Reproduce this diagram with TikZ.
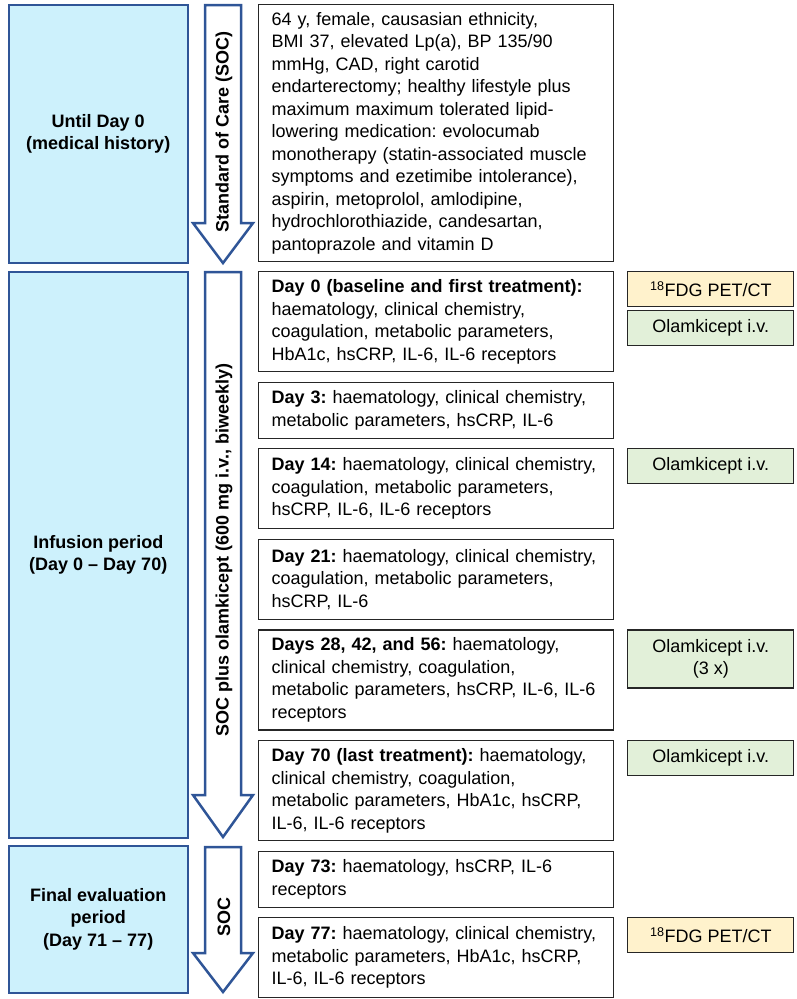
\documentclass[tikz,border=0pt]{standalone}
\usepackage{fontspec}
\setmainfont{Liberation Sans}
\frenchspacing
\usetikzlibrary{positioning}
\definecolor{socblue}{HTML}{2F5597}
\definecolor{periodfill}{HTML}{CDF1FC}
\definecolor{petfill}{HTML}{FFF2CC}
\definecolor{drugfill}{HTML}{E2F0D9}
\definecolor{boxline}{HTML}{262626}
\tikzset{
  node distance=9.4pt,
  every node/.style={font=\fontsize{18}{22.5}\selectfont},
  period/.style={draw=socblue, line width=1.5pt, fill=periodfill, align=center,
    minimum width=179pt, inner sep=0pt, anchor=north west,
    font=\fontsize{18}{22.5}\selectfont\bfseries},
  visit/.style={draw=boxline, line width=1.2pt, fill=white, align=left,
    text width=329pt, inner xsep=13pt, inner ysep=0pt},
  exam/.style={draw=boxline, line width=1.2pt, align=center,
    minimum width=166pt, minimum height=35pt, inner sep=0pt},
  pet/.style={exam, fill=petfill},
  drug/.style={exam, fill=drugfill},
  flow/.style={draw=socblue, line width=2.5pt, fill=white, line join=miter},
  flowtext/.style={rotate=90, font=\fontsize{18}{22.5}\selectfont\bfseries}
}

\begin{document}
\begin{tikzpicture}[x=1pt, y=-1pt]
  \useasboundingbox (0,0) rectangle (796,999);

  % study periods
  \node[period, minimum height=258pt] (untilday0) at (8,4) {Until Day 0\\(medical history)};
  \node[period, minimum height=566pt] (infusion) at (8,271) {Infusion period\\(Day 0 -- Day 70)};
  \node[period, minimum height=147pt] (final) at (8,845) {Final evaluation\\period\\(Day 71 -- 77)};

  % treatment arrows
  \draw[flow] (205,5) -- (241,5) -- (241,223) -- (253,223) -- (223,263) -- (193,223) -- (205,223) -- cycle;
  \draw[flow] (205,272) -- (241,272) -- (241,795) -- (253,795) -- (223,837) -- (193,795) -- (205,795) -- cycle;
  \draw[flow] (205,847) -- (241,847) -- (241,953) -- (253,953) -- (223,992) -- (193,953) -- (205,953) -- cycle;
  \node[flowtext] (soc) at (224,132) {Standard of Care (SOC)};
  \node[flowtext] (socolam) at (224,550) {SOC plus olamkicept (600 mg i.v., biweekly)};
  \node[flowtext] (socend) at (224,917) {SOC};

  % visits
  \node[visit, anchor=north west, minimum height=257pt] (anamnesis) at (258,4) {64 y, female, causasian ethnicity,\\
    BMI 37, elevated Lp(a), BP 135/90\\
    mmHg, CAD, right carotid\\
    endarterectomy; healthy lifestyle plus\\
    maximum maximum tolerated lipid-\\
    lowering medication: evolocumab\\
    monotherapy (statin-associated muscle\\
    symptoms and ezetimibe intolerance),\\
    aspirin, metoprolol, amlodipine,\\
    hydrochlorothiazide, candesartan,\\
    pantoprazole and vitamin D};
  \node[visit, anchor=north west, minimum height=100pt] (day0) at (258,271) {\textbf{Day 0 (baseline and first treatment):}\\
    haematology, clinical chemistry,\\
    coagulation, metabolic parameters,\\
    HbA1c, hsCRP, IL-6, IL-6 receptors};
  \node[visit, below=of day0, minimum height=56pt] (day3) {\textbf{Day 3:} haematology, clinical chemistry,\\
    metabolic parameters, hsCRP, IL-6};
  \node[visit, below=of day3, minimum height=80pt] (day14) {\textbf{Day 14:} haematology, clinical chemistry,\\
    coagulation, metabolic parameters,\\
    hsCRP, IL-6, IL-6 receptors};
  \node[visit, below=of day14, minimum height=80pt] (day21) {\textbf{Day 21:} haematology, clinical chemistry,\\
    coagulation, metabolic parameters,\\
    hsCRP, IL-6};
  \node[visit, below=of day21, minimum height=100pt] (day28) {\textbf{Days 28, 42, and 56:} haematology,\\
    clinical chemistry, coagulation,\\
    metabolic parameters, hsCRP, IL-6, IL-6\\
    receptors};
  \node[visit, below=of day28, minimum height=100pt] (day70) {\textbf{Day 70 (last treatment):} haematology,\\
    clinical chemistry, coagulation,\\
    metabolic parameters, HbA1c, hsCRP,\\
    IL-6, IL-6 receptors};
  \node[visit, below=of day70, minimum height=56pt] (day73) {\textbf{Day 73:} haematology, hsCRP, IL-6\\
    receptors};
  \node[visit, below=of day73, minimum height=80pt] (day77) {\textbf{Day 77:} haematology, clinical chemistry,\\
    metabolic parameters, HbA1c, hsCRP,\\
    IL-6, IL-6 receptors};

  % imaging and infusions
  \node[pet, right=13pt of day0.north east, anchor=north west] (pet0) {\textsuperscript{18}FDG PET/CT};
  \node[drug, below=3pt of pet0] (drug0) {Olamkicept i.v.};
  \node[drug, right=13pt of day14.north east, anchor=north west] (drug14) {Olamkicept i.v.};
  \node[drug, right=13pt of day28.north east, anchor=north west, minimum height=58pt] (drug28) {Olamkicept i.v.\\(3 x)};
  \node[drug, right=13pt of day70.north east, anchor=north west] (drug70) {Olamkicept i.v.};
  \node[pet, right=13pt of day77.north east, anchor=north west] (pet77) {\textsuperscript{18}FDG PET/CT};
\end{tikzpicture}
\end{document}
